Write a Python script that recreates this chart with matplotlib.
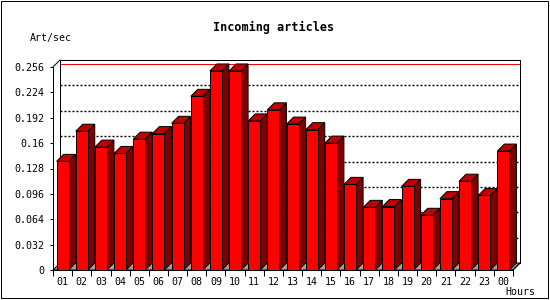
import matplotlib
matplotlib.use("Agg")
import matplotlib.pyplot as plt
from matplotlib.patches import Rectangle, Polygon

# data
hours = ["01", "02", "03", "04", "05", "06", "07", "08", "09", "10", "11", "12",
         "13", "14", "15", "16", "17", "18", "19", "20", "21", "22", "23", "00"]
art_per_sec = [0.137, 0.175, 0.155, 0.147, 0.165, 0.172, 0.185, 0.219, 0.251, 0.251, 0.188, 0.202,
               0.184, 0.177, 0.160, 0.108, 0.079, 0.080, 0.1055, 0.069, 0.090, 0.112, 0.094, 0.150]
y_ticks = [0, 0.032, 0.064, 0.096, 0.128, 0.16, 0.192, 0.224, 0.256]
y_labels = ["0", "0.032", "0.064", "0.096", "0.128", "0.16", "0.192", "0.224", "0.256"]

W, H = 550, 300
FONT = "DejaVu Sans Mono"
FRONT = "#ff0000"
TOP = "#c00000"
SIDE = "#800000"
FLOOR = "#a0a0a0"

fig = plt.figure(figsize=(W / 100, H / 100), dpi=100)
fig.patch.set_facecolor("white")

# front plot area in pixels
ax_l, ax_b, ax_w, ax_h = 53, 30, 460, 203
ax = fig.add_axes([ax_l / W, ax_b / H, ax_w / W, ax_h / H])
ax.set_facecolor("none")
n = len(hours)
ymax = y_ticks[-1]
ax.set_xlim(0, n)
ax.set_ylim(0, ymax)

# 3D depth (pixels -> data units)
depth_px = 7
DX = depth_px * n / ax_w
DY = depth_px * ymax / ax_h
lw = 0.72

for s in ["top", "right"]:
    ax.spines[s].set_visible(False)
for s in ["left", "bottom"]:
    ax.spines[s].set_linewidth(lw)

ax.set_yticks(y_ticks)
ax.set_yticklabels(y_labels, fontfamily=FONT, fontsize=7.2)
ax.tick_params(axis="y", direction="out", length=2.5, width=lw, pad=4)
ax.set_xticks(range(n + 1))
ax.set_xticklabels([])
ax.set_xticks([i + 0.5 for i in range(n)], minor=True)
ax.set_xticklabels(hours, minor=True, fontfamily=FONT, fontsize=7.2)
ax.tick_params(axis="x", which="major", direction="out", length=4, width=lw)
ax.tick_params(axis="x", which="minor", length=0, pad=5)

# back plane frame and grid
kw = dict(color="black", lw=lw, clip_on=False)
ax.plot([DX, DX], [DY, ymax + DY], **kw)
ax.plot([DX, n + DX], [ymax + DY, ymax + DY], **kw)
ax.plot([n + DX, n + DX], [DY, ymax + DY], **kw)
ax.plot([0, DX], [ymax, ymax + DY], **kw)
for v in y_ticks[1:-1]:
    ax.plot([DX, n + DX], [v + DY, v + DY], color="black", lw=1.0,
            linestyle=(0, (1.44, 1.44)), clip_on=False, zorder=1)
# max line
vmax = max(art_per_sec)
ax.plot([DX, n + DX], [vmax + DY, vmax + DY], color="red", lw=lw, clip_on=False, zorder=1)

# floor
ax.add_patch(Polygon([(0, 0), (n, 0), (n + DX, DY), (DX, DY)], closed=True,
                     facecolor=FLOOR, edgecolor="black", lw=lw, clip_on=False, zorder=2))

# bars
bw = 12 / (ax_w / n)
for i, v in enumerate(art_per_sec):
    l = i + (1 - bw) / 2
    ax.add_patch(Polygon([(l + bw, 0), (l + bw + DX, DY), (l + bw + DX, v + DY), (l + bw, v)],
                         closed=True, facecolor=SIDE, edgecolor="black", lw=lw,
                         clip_on=False, zorder=3))
    ax.add_patch(Polygon([(l, v), (l + bw, v), (l + bw + DX, v + DY), (l + DX, v + DY)],
                         closed=True, facecolor=TOP, edgecolor="black", lw=lw,
                         clip_on=False, zorder=3))
    ax.add_patch(Rectangle((l, 0), bw, v, facecolor=FRONT, edgecolor="black", lw=lw,
                           clip_on=False, zorder=4))

ax.plot([n, n + DX], [0, DY], color="black", lw=lw, clip_on=False, zorder=5)

# texts
fig.text(274 / W, 1 - 31.5 / H, "Incoming articles", ha="center", va="baseline",
         fontfamily=FONT, fontsize=8.5, fontweight="bold")
fig.text(30 / W, 1 - 40.5 / H, "Art/sec", ha="left", va="baseline",
         fontfamily=FONT, fontsize=7.2)
fig.text(505 / W, 1 - 295 / H, "Hours", ha="left", va="baseline",
         fontfamily=FONT, fontsize=7.2)

# outer frame
fig.add_artist(Rectangle((0.5 / W, 2.5 / H), 547 / W, 297 / H, transform=fig.transFigure,
                         facecolor="none", edgecolor="black", lw=lw))

fig.savefig("out.png", dpi=100, facecolor="white")
